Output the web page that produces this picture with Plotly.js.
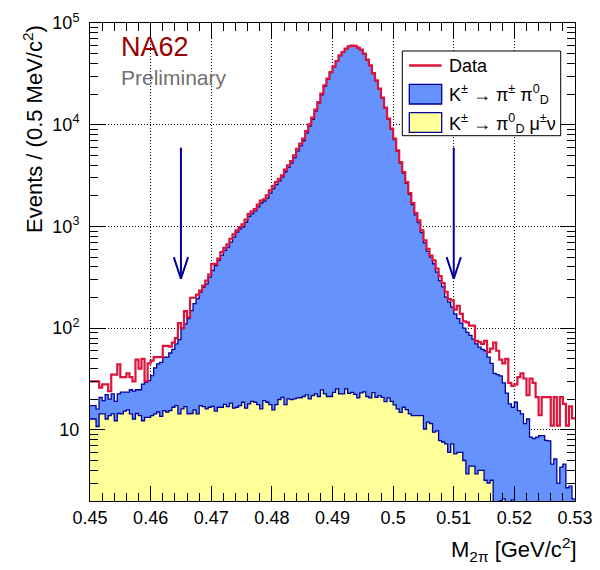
<!DOCTYPE html>
<html><head><meta charset="utf-8">
<script src="https://cdn.plot.ly/plotly-3.0.1.min.js"></script>
<style>html,body{margin:0;padding:0;background:#fff}#chart{width:600px;height:570px}</style>
</head><body><div id="chart"></div>
<script>
// Binning: 0.5 MeV bins from 0.45 to 0.53 GeV/c^2
const binLow = 0.45;
const binWidth = 0.0005;

// Data (events per bin)
const dataCounts = [
30,30,30,26,28,28,24,35,35,44,
33,33,36,33,30,49,40,50,30,45,
48,52,52,52,67,67,66,72,80,112,
100,147,128,199,199,214,234,262,294,337,
430,427,483,560,617,665,757,834,914,985,
1047,1170,1330,1410,1480,1640,1800,1850,2020,2262,
2493,2731,2944,3176,3611,3983,4390,4992,5807,6505,
7290,8660,10070,11720,14060,16710,20200,24360,28380,32990,
37500,42300,48100,51850,55950,59000,59950,59500,57300,54700,
50000,43600,38400,32200,27300,22640,18460,14720,11460,9140,
7290,5600,4290,3420,2730,2130,1695,1352,1145,914,
728,603,518,463,385,325,278,228,193,188,
152,166,138,117,114,106,106,75,73,70,
75,58,63,72,60,49,45,50,29,27,
28,33,36,32,22,32,29,21,14,21,
21,21,11,21,11,21,18,11,17,13
];

// Total MC stack: K -> pi pi0_D  +  K -> pi0_D mu nu
const totalMC = [
17.3,17.3,16,20.9,19.4,22.2,20.1,22.6,19.1,22.6,
23.5,23.5,23.5,24.8,24,24.8,24.8,28.2,29.4,30.5,
34.2,40.7,44.6,46.2,51.8,52,57,62,70,77,
99,110,124,149,174,195,226,253,273,317,
369,413,463,519,581,626,701,785,879,949,
990,1100,1260,1340,1420,1560,1700,1780,1900,2130,
2350,2580,2800,3050,3450,3800,4200,4750,5500,6200,
7000,8300,9700,11300,13600,16300,19700,23800,27900,32500,
37000,42000,47800,51600,55700,58800,59800,59300,57100,54400,
49700,43300,38100,31900,27000,22400,18200,14500,11300,9000,
7150,5500,4200,3340,2660,2070,1640,1300,1090,870,
690,570,499,430,356,294,255,202,180,161,
138,124,112,100,91,85,78,70,65,62,
60,52,45,36,35,34,29,23,18,16.7,
18.7,15.5,14.4,11.5,12.8,8.5,8.2,8.5,8.8,8.8,
7.9,7.8,4.6,5.2,3.0,4.3,4.6,2.7,2.8,2.1
];

// K -> pi0_D mu nu component
const kmu3Counts = [
12.8,12.8,10.8,14.4,14.4,12.8,13.8,14.4,12.3,14.5,
14.4,15.3,15.7,14.4,12.8,14.5,13.8,12.3,13.3,13.3,
13.8,14.4,15.0,13.6,15.5,15,15.5,16.7,17.3,14.4,
16.1,16.9,14.4,14.5,15.7,14.4,17.3,16.9,16.1,16.7,
17,15.3,16.7,16.7,17.8,16.9,18.3,16.4,16.7,17.3,
18.7,16.4,18.0,19.1,18.7,17.7,16.1,19.4,18.7,17.7,
15.7,17.7,19.9,20.9,17.7,20.2,19.8,20.2,20.6,20.7,
21.3,22.1,20.2,21.7,22.6,21.3,24.7,22.6,21.3,21.3,
23.4,25.3,22.6,22.6,25.3,22.9,23.4,22.3,20.6,23.1,
23.6,21.3,20.6,23.3,20.9,21.7,20.9,19.0,20.6,19.1,
17.6,16.1,14.9,16.7,15.8,14.4,13.8,13.8,13.8,13.8,
10.2,11.9,11.5,9.5,9.8,7.85,7.6,7.3,6.0,7.3,
5.8,6.0,6.0,5.0,3.7,4.4,4.4,3.7,4.0,4.0,
3.2,3.0,3.2,1,1,2.0,2.1,1,1,2.05,
1,1,1,1,1,1,1,1,1,1,
1,1,1,1,1,1,1,1,1,1
];

const xTickVals = [0.45,0.46,0.47,0.48,0.49,0.50,0.51,0.52,0.53];
const xTickText = ['0.45','0.46','0.47','0.48','0.49','0.5','0.51','0.52','0.53'];
const yTickVals = [10,100,1000,10000,100000];
const yTickText = ['10','10<sup>2</sup>','10<sup>3</sup>','10<sup>4</sup>','10<sup>5</sup>'];

// Signal-region cuts marked with arrows
const cutValues = [0.465, 0.51];
const arrowTopValue = 5950;
const arrowTipValue = 306;
const arrowHeadValue = 500;

const legendLabels = [
  'Data',
  'K<sup>±</sup> → π<sup>±</sup> π<sup>0</sup><sub>D</sub>',
  'K<sup>±</sup> → π<sup>0</sup><sub>D</sub> μ<sup>±</sup>ν'
];

const FONT = 'Liberation Sans, Arial, Helvetica, sans-serif';
const COL_RED = '#dc143c';
const COL_NAVY = '#000099';
const COL_BLUE = '#6592fd';
const COL_YELLOW = '#ffff99';

function stepXY(vals){
  const x = [], y = [];
  for (let i = 0; i < vals.length; i++){ x.push(binLow + i*binWidth); y.push(vals[i]); }
  x.push(binLow + vals.length*binWidth); y.push(vals[vals.length-1]);
  return {x, y};
}

const sMC = stepXY(totalMC), sK = stepXY(kmu3Counts), sD = stepXY(dataCounts);

const traces = [
  {x: sMC.x, y: sMC.y, type:'scatter', mode:'lines', line:{shape:'hv', color:COL_NAVY, width:1.3, simplify:false},
   fill:'tozeroy', fillcolor:COL_BLUE, showlegend:false, hoverinfo:'skip'},
  {x: sK.x, y: sK.y, type:'scatter', mode:'lines', line:{shape:'hv', color:COL_NAVY, width:1.3, simplify:false},
   fill:'tozeroy', fillcolor:COL_YELLOW, showlegend:false, hoverinfo:'skip'},
  {x: sD.x, y: sD.y, type:'scatter', mode:'lines', line:{shape:'hv', color:COL_RED, width:2.2, simplify:false},
   showlegend:false, hoverinfo:'skip'}
];
const headDx = 0.00118;
cutValues.forEach(c => {
  traces.push({x:[c,c], y:[arrowTopValue, arrowTipValue], type:'scatter', mode:'lines',
    line:{color:COL_NAVY, width:2}, showlegend:false, hoverinfo:'skip'});
  traces.push({x:[c-headDx, c, c+headDx], y:[arrowHeadValue, arrowTipValue, arrowHeadValue], type:'scatter', mode:'lines',
    line:{color:COL_NAVY, width:2}, showlegend:false, hoverinfo:'skip'});
});

// pixel -> paper helpers for layout chrome
const PL = 90, PR = 575, PT = 23, PB = 501;
const px = v => (v - PL)/(PR - PL);
const py = v => (PB - v)/(PB - PT);

const minorY = [];
for (let e = 0; e < 5; e++) for (let k = 2; k <= 9; k++) minorY.push(k*Math.pow(10,e));

const shapes = [
  {type:'rect', xref:'paper', yref:'paper', x0:px(402.3), x1:px(560.7), y0:py(135.7), y1:py(51),
   fillcolor:'#ffffff', line:{color:'#000', width:1}, layer:'above'},
  {type:'line', xref:'paper', yref:'paper', x0:px(409), x1:px(441.5), y0:py(65.5), y1:py(65.5),
   line:{color:COL_RED, width:2.4}, layer:'above'},
  {type:'rect', xref:'paper', yref:'paper', x0:px(409.3), x1:px(441.7), y0:py(104), y1:py(84.3),
   fillcolor:COL_BLUE, line:{color:COL_NAVY, width:1.3}, layer:'above'},
  {type:'rect', xref:'paper', yref:'paper', x0:px(409.3), x1:px(441.7), y0:py(132.3), y1:py(112.7),
   fillcolor:COL_YELLOW, line:{color:COL_NAVY, width:1.3}, layer:'above'}
];

const annotations = [
  {text:'NA62', xref:'paper', yref:'paper', x:px(119), y:py(47), xanchor:'left', yanchor:'middle', showarrow:false,
   font:{family:FONT, size:27, color:'#990000'}},
  {text:'Preliminary', xref:'paper', yref:'paper', x:px(119), y:py(77), xanchor:'left', yanchor:'middle', showarrow:false,
   font:{family:FONT, size:21, color:'#707070'}},
  {text:'Events / (0.5 MeV/c<sup>2</sup>)', xref:'paper', yref:'paper', x:px(33), y:py(129), xanchor:'center', yanchor:'middle',
   textangle:-90, showarrow:false, font:{family:FONT, size:22, color:'#000'}},
  {text:'M<sub>2π</sub> [GeV/c<sup>2</sup>]', xref:'paper', yref:'paper', x:px(579), y:py(549), xanchor:'right', yanchor:'middle',
   showarrow:false, font:{family:FONT, size:22, color:'#000'}},
  {text:legendLabels[0], xref:'paper', yref:'paper', x:px(447), y:py(66), xanchor:'left', yanchor:'middle', showarrow:false,
   font:{family:FONT, size:18, color:'#000'}},
  {text:legendLabels[1], xref:'paper', yref:'paper', x:px(447), y:py(95), xanchor:'left', yanchor:'middle', showarrow:false,
   font:{family:FONT, size:18, color:'#000'}},
  {text:legendLabels[2], xref:'paper', yref:'paper', x:px(447), y:py(123), xanchor:'left', yanchor:'middle', showarrow:false,
   font:{family:FONT, size:18, color:'#000'}}
];

const axisCommon = {
  showline:true, linecolor:'#000', linewidth:1, mirror:'ticks',
  ticks:'inside', ticklen:15, tickwidth:1, tickcolor:'#000',
  showgrid:true, gridcolor:'#000', griddash:'1px,2px', gridwidth:1, zeroline:false,
  tickfont:{family:FONT, size:18, color:'#000'}
};

const layout = {
  width:600, height:570,
  margin:{l:PL, r:600-PR, t:PT, b:570-PB, pad:0},
  paper_bgcolor:'#fff', plot_bgcolor:'#fff',
  showlegend:false,
  xaxis: Object.assign({}, axisCommon, {
    range:[0.45, 0.53], tickmode:'array', tickvals:xTickVals, ticktext:xTickText,
    minor:{tickmode:'linear', tick0:0.45, dtick:0.002, ticks:'inside', ticklen:8, tickcolor:'#000', showgrid:false}
  }),
  yaxis: Object.assign({}, axisCommon, {
    type:'log', range:[Math.log10(2), 5], tickmode:'array', tickvals:yTickVals, ticktext:yTickText,
    ticklabelstandoff:6,
    minor:{tickmode:'array', tickvals:minorY, ticks:'inside', ticklen:8, tickcolor:'#000', showgrid:false}
  }),
  shapes, annotations
};

Plotly.newPlot('chart', traces, layout, {displayModeBar:false, staticPlot:true});
</script></body></html>
